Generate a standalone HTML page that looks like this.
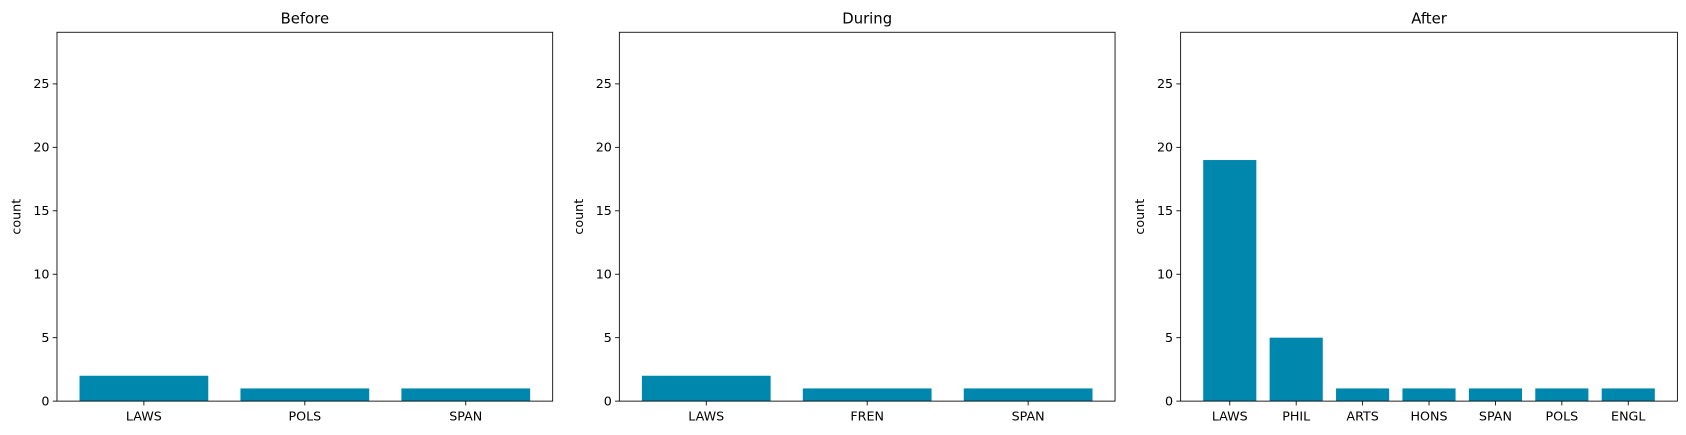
<!DOCTYPE html>
<html><head><meta charset="utf-8"><style>
body{margin:0;background:#fff;font-family:"Liberation Sans","DejaVu Sans",sans-serif;}
svg{display:block}
svg text{font-family:"DejaVu Sans","Liberation Sans",sans-serif;fill:#000}
</style></head><body>
<svg id="chart" width="1686" height="435" viewBox="0 0 1568 404.5" preserveAspectRatio="none" xmlns="http://www.w3.org/2000/svg"></svg>
<script>
const titles = ["Before","During","After"];
const cats0 = ["LAWS","POLS","SPAN"];
const vals0 = [2,1,1];
const cats1 = ["LAWS","FREN","SPAN"];
const vals1 = [2,1,1];
const cats2 = ["LAWS","PHIL","ARTS","HONS","SPAN","POLS","ENGL"];
const vals2 = [19,5,1,1,1,1,1];
const yTicks = [0,5,10,15,20,25];
const yMax = 29.07;

const svg = document.getElementById('chart');
const NS = 'http://www.w3.org/2000/svg';
function mk(tag, attrs, parent){const e=document.createElementNS(NS,tag);for(const k in attrs)e.setAttribute(k,attrs[k]);(parent||svg).appendChild(e);return e;}
const panels=[{l:53,r:514,c:cats0,v:vals0},{l:576,r:1037,c:cats1,v:vals1},{l:1098,r:1560,c:cats2,v:vals2}];
const plotTop=30,plotBot=373;
panels.forEach((p,i)=>{
  const g=mk('g',{});
  
  
  const n=p.c.length, lo=-0.4-0.05*(n-0.2), hi=n-1+0.4+0.05*(n-0.2);
  const xs=x=>p.l+(x-lo)/(hi-lo)*(p.r-p.l);
  const ys=y=>plotBot-y/yMax*(plotBot-plotTop);
  p.v.forEach((v,j)=>{
    const b=mk('rect',{x:xs(j-0.4),y:ys(v),width:xs(j+0.4)-xs(j-0.4),height:plotBot-ys(v),fill:'#0087ae'},g);
    
    
    mk('line',{x1:xs(j),x2:xs(j),y1:plotBot,y2:plotBot+4,stroke:'#000','stroke-width':0.8},g);
    const t=mk('text',{x:xs(j),y:plotBot+18,'text-anchor':'middle','font-size':11.8},g);t.textContent=p.c[j];
    
    
  });
  yTicks.forEach(tv=>{
    mk('line',{x1:p.l-4,x2:p.l,y1:ys(tv),y2:ys(tv),stroke:'#000','stroke-width':0.8},g);
    const t=mk('text',{x:p.l-7,y:ys(tv)+4,'text-anchor':'end','font-size':11.8},g);t.textContent=tv;
    
    
  });
  mk('rect',{x:p.l,y:plotTop,width:p.r-p.l,height:plotBot-plotTop,fill:'none',stroke:'#000','stroke-width':0.8},g);
  const tt=mk('text',{x:(p.l+p.r)/2,y:plotTop-8,'text-anchor':'middle','font-size':13.8},g);tt.textContent=titles[i];
  
  
  const yl=mk('text',{x:0,y:0,'text-anchor':'middle','font-size':11.8,transform:`translate(${p.l-34},${(plotTop+plotBot)/2}) rotate(-90)`},g);yl.textContent='count';
  
  
});
</script>
</body></html>
